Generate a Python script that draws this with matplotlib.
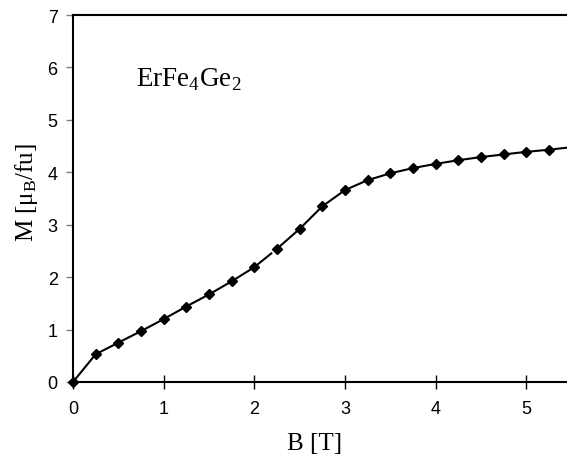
import numpy as np
import matplotlib.pyplot as plt

# magnetisation curve of ErFe4Ge2
field_T = [0.0, 0.25, 0.5, 0.75, 1.0, 1.25, 1.5, 1.75, 2.0, 2.25, 2.5,
           2.75, 3.0, 3.25, 3.5, 3.75, 4.0, 4.25, 4.5, 4.75, 5.0, 5.25, 5.45]
moment = [0.0, 0.53, 0.75, 0.97, 1.20, 1.44, 1.67, 1.92, 2.19, 2.54, 2.92,
          3.35, 3.66, 3.85, 3.98, 4.08, 4.16, 4.23, 4.29, 4.34, 4.39, 4.43, 4.47]
x_ticks = [0, 1, 2, 3, 4, 5]
y_ticks = [0, 1, 2, 3, 4, 5, 6, 7]

B = np.array(field_T)
M = np.array(moment)

fig = plt.figure(figsize=(5.67, 4.56), dpi=100)
ax = fig.add_axes([73 / 567, 73 / 456, 494 / 567, 367 / 456])

lo = B <= 2.0
hi = B >= 2.25
ax.plot(B[lo], M[lo], color='black', lw=1.5)
ax.plot(B[hi], M[hi], color='black', lw=1.5)
# broken connecting segment between 2.0 and 2.25 T
gap = (B >= 2.0) & (B <= 2.25)
ax.plot(B[gap], M[gap], color='black', lw=1.5, linestyle=(0, (11, 7, 14, 100)))
# measured points (last value is just where the line runs off the frame)
ax.plot(B[:-1], M[:-1], linestyle='none', marker='D', color='black', ms=5,
        clip_on=False, zorder=5)

ax.set_xlim(0, 5.45)
ax.set_ylim(0, 7)
ax.set_xticks(x_ticks)
ax.set_yticks(y_ticks)
ax.spines['right'].set_visible(False)
for s in ['left', 'bottom', 'top']:
    ax.spines[s].set_linewidth(1.5)

ax.tick_params(axis='x', direction='inout', length=10, width=1, pad=8, labelsize=13)
ax.tick_params(axis='y', direction='out', length=5, width=1, color='gray', pad=6, labelsize=13)
for lab in ax.get_xticklabels() + ax.get_yticklabels():
    lab.set_family('Liberation Sans')

ax.set_xlabel('B [T]', family='Liberation Serif', fontsize=18)
ax.set_ylabel(r'M [$\mathregular{\mu_B}$/fu]', family='Liberation Serif', fontsize=18)
ax.xaxis.set_label_coords(0.49, -0.136)
ax.yaxis.set_label_coords(-0.066, 0.518)
ax.text(0.7, 5.78, r'ErFe$_\mathregular{4}$Ge$_\mathregular{2}$', family='Liberation Serif',
        fontsize=19.5, va='center')

fig.savefig('out.png', dpi=100)
